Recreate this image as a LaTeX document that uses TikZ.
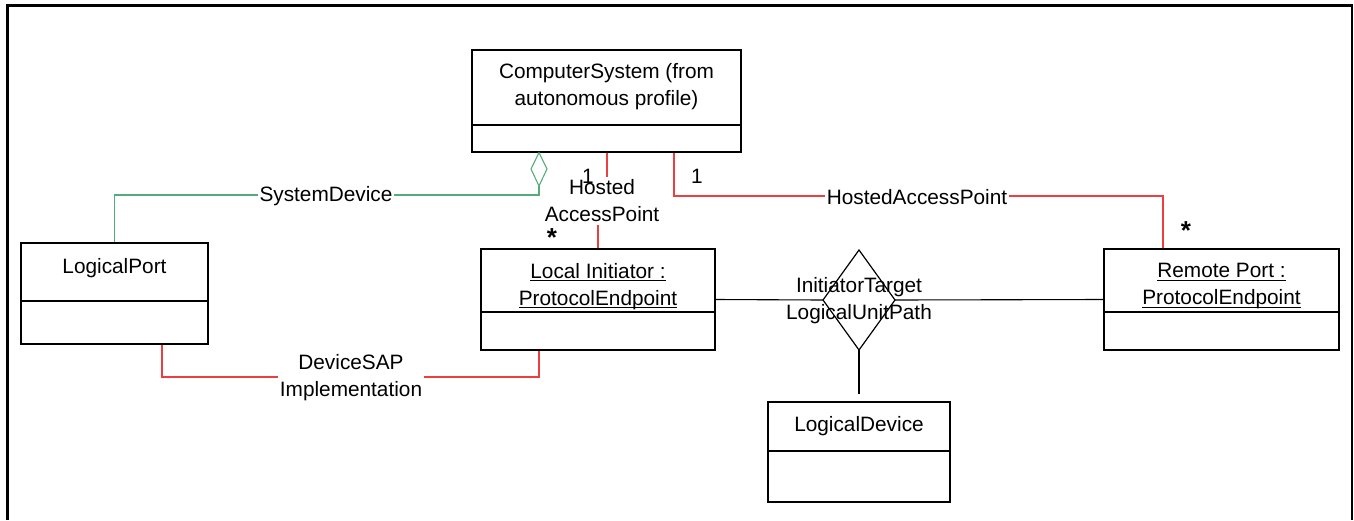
\documentclass[tikz,border=0pt]{standalone}
\usepackage{fontspec}
\setmainfont{Liberation Sans}
\usetikzlibrary{fit}
\definecolor{assocred}{RGB}{236,64,64}
\definecolor{aggrgreen}{RGB}{84,172,124}
% underline drawn just under the baseline, across descenders
\newcommand\ulbase[1]{\underline{\raisebox{0pt}[\height][0pt]{#1}}}

\begin{document}
\begin{tikzpicture}[x=0.5pt,y=-0.5pt,
  classbox/.style={draw, line width=0.6pt, inner sep=0pt},
  divider/.style={line width=0.6pt},
  txt/.style={font=\fontsize{10.4pt}{13.5pt}\selectfont, align=center, inner sep=1pt},
  onwire/.style={txt, fill=white},
  assoc/.style={line width=0.55pt, black},
  hosted/.style={line width=0.55pt, assocred},
  sysdev/.style={line width=0.55pt, aggrgreen},
  mult/.style={font=\fontsize{10.4pt}{12pt}\selectfont, inner sep=0pt},
  star/.style={font=\fontsize{13pt}{13pt}\bfseries\selectfont, inner sep=0pt}]

\useasboundingbox (0,0) rectangle (1354,520);
% open frame (no bottom edge)
\draw[line width=1.3pt] (7.5,520) -- (7.5,5.5) -- (1352,5.5) -- (1352,520);

% class boxes
\node[classbox, fit={(472,50) (741,152)}] (cs) {};
\draw[divider] (cs.west |- 0,125) -- (cs.east |- 0,125);
\node[txt] (cstxt) at (606.5,87) {ComputerSystem (from\\autonomous profile)};

\node[classbox, fit={(21,243) (208,344)}] (lp) {};
\draw[divider] (lp.west |- 0,301) -- (lp.east |- 0,301);
\node[txt] (lptxt) at (114.5,268) {LogicalPort};

\node[classbox, fit={(481,249) (715,350)}] (li) {};
\draw[divider] (li.west |- 0,312) -- (li.east |- 0,312);
\node[txt] (litxt) at (598,286) {\ulbase{Local Initiator :}\\\ulbase{ProtocolEndpoint}};

\node[classbox, fit={(1104,249) (1339,350)}] (rp) {};
\draw[divider] (rp.west |- 0,312) -- (rp.east |- 0,312);
\node[txt] (rptxt) at (1221.5,286) {\ulbase{Remote Port :}\\\ulbase{ProtocolEndpoint}};

\node[classbox, fit={(768,402) (950,502)}] (ld) {};
\draw[divider] (ld.west |- 0,451) -- (ld.east |- 0,451);
\node[txt] (ldtxt) at (859,426) {LogicalDevice};

% aggregation diamond under ComputerSystem
\coordinate (aggtop) at (cs.south -| 539,0);
\coordinate (aggtip) at (539,186);
\draw[sysdev] (aggtop) -- (547,169) -- (aggtip) -- (531,169) -- cycle;

% n-ary association diamond
\coordinate (itw) at (823,300);
\coordinate (ite) at (895,300);
\coordinate (its) at (859,350);
\draw[assoc, line width=0.6pt] (859,250) -- (ite) -- (its) -- (itw) -- cycle;

% SystemDevice
\draw[sysdev] (aggtip) -- (aggtip |- 0,195) -| (lp.north);
\node[onwire] (sdlbl) at (326,196) {SystemDevice};

% HostedAccessPoint to the local initiator
\node[onwire] (hap1) at (602,201) {Hosted\\AccessPoint};
\draw[hosted] (cs.south -| 607,0) -- (hap1.north -| 607,0);
\draw[hosted] (hap1.south -| 598,0) -- (li.north -| 598,0);
\node[mult] (m1a) at (588,176) {1};
\node[star] (m1b) at (552,238) {*};

% HostedAccessPoint to the remote port
\draw[hosted] (cs.south -| 674,0) |- (1163,196) -- (rp.north -| 1163,0);
\node[onwire] (hap2) at (917,197) {HostedAccessPoint};
\node[mult] (m2a) at (697,176) {1};
\node[star] (m2b) at (1186,231) {*};

% DeviceSAPImplementation
\draw[hosted] (lp.south -| 162,0) -- (162,377) -| (li.south -| 539,0);
\node[onwire] (dsap) at (351,378) {DeviceSAP\\Implementation};

% InitiatorTargetLogicalUnitPath
\draw[assoc] (li.east) -- (itw);
\draw[assoc] (ite) -- (rp.west);
\draw[assoc, shorten >=3.5pt] (its) -- (ld.north);
\node[txt] (itlbl) at (859,301) {InitiatorTarget\\LogicalUnitPath};
\end{tikzpicture}
\end{document}
